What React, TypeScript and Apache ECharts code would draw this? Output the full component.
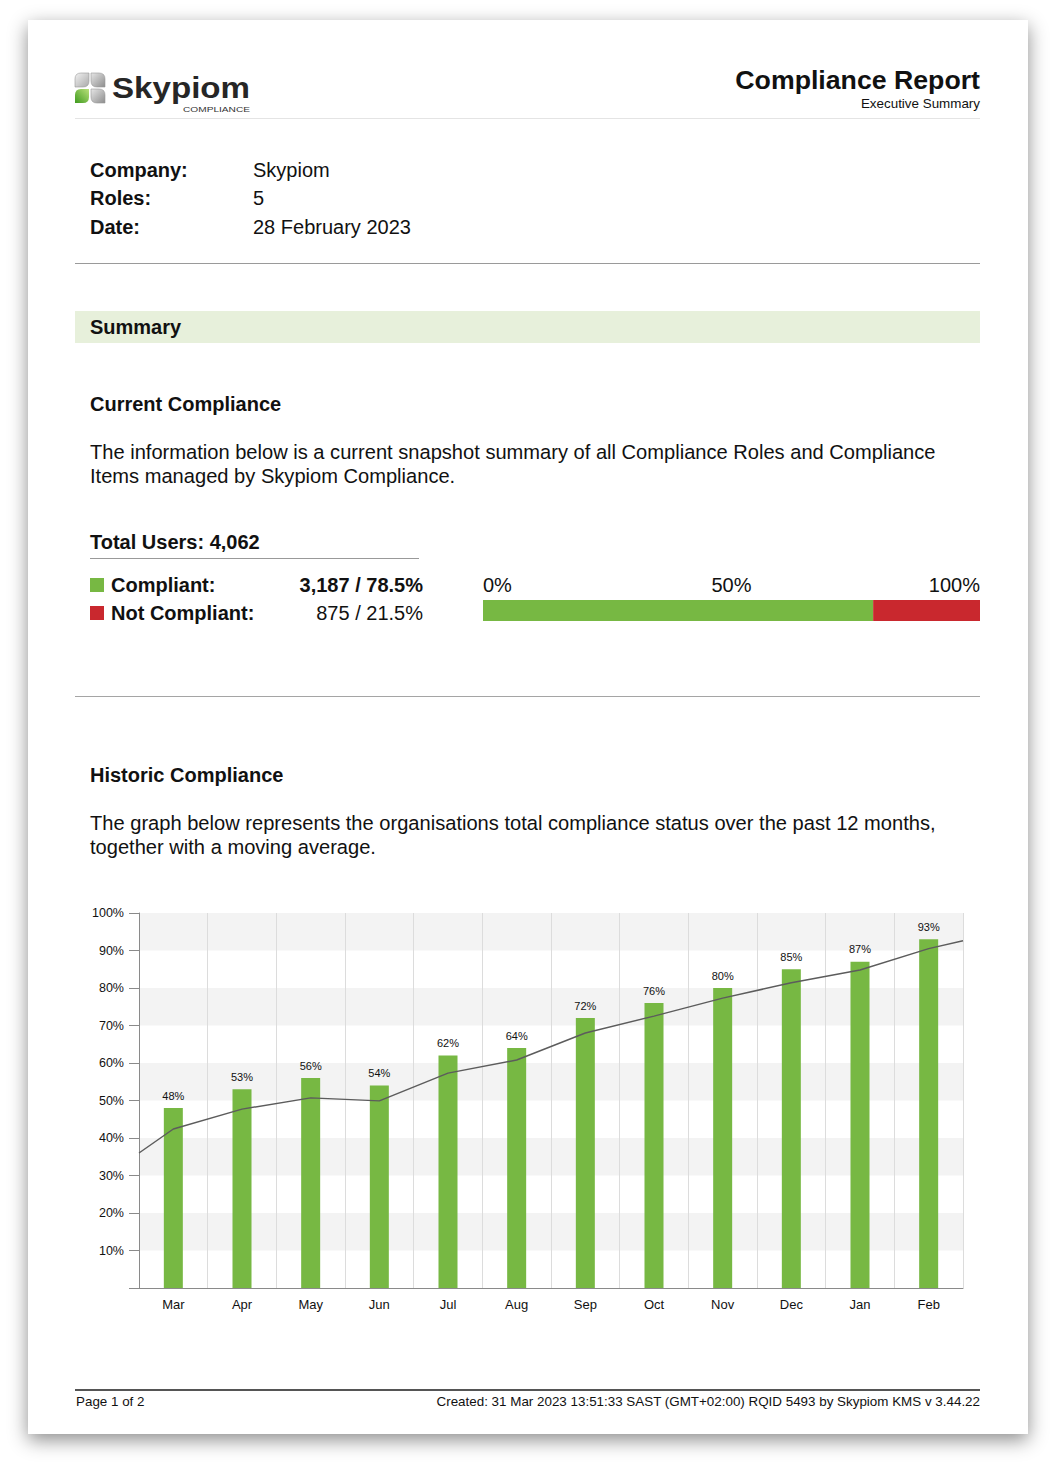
import React, { useEffect, useRef } from 'react';
import * as echarts from 'echarts';

const FONT = '"Liberation Sans", Arial, Helvetica, sans-serif';

// ---- data ----
const companyName = 'Skypiom';
const rolesCount = 5;
const reportDate = '28 February 2023';
const totalUsers = '4,062';
const statusLabels = ['Compliant:', 'Not Compliant:'];
const statusUsers = ['3,187', '875'];
const statusPct = [78.5, 21.5];
const statusColors = ['#77b843', '#c9282e'];
const snapshotTicks = [0, 50, 100];

const months = ['Mar', 'Apr', 'May', 'Jun', 'Jul', 'Aug', 'Sep', 'Oct', 'Nov', 'Dec', 'Jan', 'Feb'];
const compliancePct = [48, 53, 56, 54, 62, 64, 72, 76, 80, 85, 87, 93];
// moving average: start at axis left edge, one point per month centre, end at axis right edge
const movingAvg = [36, 42.4, 47.7, 50.7, 49.9, 57.3, 60.8, 68, 72.5, 77.3, 81.4, 84.8, 90.5, 92.6];
const movingAvgPos = [0, ...months.map((_, i) => i + 0.5), months.length];
const yMin = 0;
const yMax = 100;
const yStep = 10;

// ---- helpers ----
function T(props: {
  x: number; y: number; size: number; bold?: boolean; align?: 'left' | 'right';
  color?: string; children: React.ReactNode;
}) {
  const f = props.size;
  const L = Math.round(f * 1.2);
  const baseline = (L - 1.117 * f) / 2 + 0.905 * f;
  const capCenter = baseline - 0.358 * f;
  const style: React.CSSProperties = {
    position: 'absolute',
    top: props.y - capCenter,
    fontSize: f,
    lineHeight: L + 'px',
    fontWeight: props.bold ? 700 : 400,
    fontFamily: FONT,
    color: props.color || '#111',
    whiteSpace: 'nowrap',
  };
  if (props.align === 'right') {
    style.right = 1058 - props.x;
    style.textAlign = 'right';
  } else {
    style.left = props.x;
  }
  return <div style={style}>{props.children}</div>;
}

function HLine(props: { x1: number; x2: number; y: number; color: string; w?: number }) {
  return (
    <div
      style={{
        position: 'absolute',
        left: props.x1,
        top: props.y,
        width: props.x2 - props.x1,
        height: props.w || 1,
        background: props.color,
      }}
    />
  );
}

function Logo() {
  return (
    <svg
      style={{ position: 'absolute', left: 74, top: 70 }}
      width={185}
      height={44}
      viewBox="0 0 185 44"
    >
      <defs>
        <linearGradient id="lg1" x1="0" y1="0" x2="1" y2="1">
          <stop offset="0" stopColor="#f2f2f2" />
          <stop offset="1" stopColor="#a9a9a9" />
        </linearGradient>
        <linearGradient id="lg2" x1="0" y1="0" x2="1" y2="1">
          <stop offset="0" stopColor="#e6e6e6" />
          <stop offset="1" stopColor="#8d8d8d" />
        </linearGradient>
        <linearGradient id="lg3" x1="1" y1="0" x2="0" y2="1">
          <stop offset="0" stopColor="#b9e07a" />
          <stop offset="1" stopColor="#3f9a1f" />
        </linearGradient>
      </defs>
      <path d="M1,17 V9 Q1,3 7,3 H15 V11 Q15,17 9,17 Z" fill="url(#lg1)" stroke="#999" strokeWidth="0.6" />
      <path d="M17,3 H25 Q31,3 31,9 V17 H23 Q17,17 17,11 Z" fill="url(#lg2)" stroke="#999" strokeWidth="0.6" />
      <path d="M15,19 V27 Q15,33 9,33 H1 V25 Q1,19 7,19 Z" fill="url(#lg3)" />
      <path d="M17,19 H25 Q31,19 31,25 V33 H23 Q17,33 17,27 Z" fill="url(#lg2)" stroke="#999" strokeWidth="0.6" />
      <text
        x={38}
        y={28}
        fontFamily={FONT}
        fontWeight={700}
        fontSize={29}
        fill="#262626"
        textLength={138}
        lengthAdjust="spacingAndGlyphs"
      >
        Skypiom
      </text>
      <text
        x={109}
        y={41.5}
        fontFamily={FONT}
        fontSize={7.5}
        fill="#333"
        textLength={67}
        lengthAdjust="spacingAndGlyphs"
      >
        COMPLIANCE
      </text>
    </svg>
  );
}

function SnapshotBar() {
  const ref = useRef<HTMLDivElement>(null);
  useEffect(() => {
    if (!ref.current) return;
    const chart = echarts.init(ref.current, undefined, { renderer: 'svg' });
    chart.setOption({
      animation: false,
      textStyle: { fontFamily: FONT },
      grid: { left: 13, right: 20, top: 35, height: 21 },
      xAxis: {
        type: 'value',
        position: 'top',
        min: snapshotTicks[0],
        max: snapshotTicks[snapshotTicks.length - 1],
        interval: snapshotTicks[1] - snapshotTicks[0],
        axisLine: { show: false },
        axisTick: { show: false },
        splitLine: { show: false },
        axisLabel: {
          fontSize: 20,
          color: '#111',
          margin: 5,
          formatter: '{value}%',
          alignMinLabel: 'left',
          alignMaxLabel: 'right',
        },
      },
      yAxis: { type: 'category', data: ['users'], show: false },
      series: statusPct.map((v, i) => ({
        type: 'bar',
        stack: 'total',
        barWidth: 21,
        data: [v],
        itemStyle: { color: statusColors[i] },
      })),
    });
    return () => chart.dispose();
  }, []);
  return <div ref={ref} style={{ position: 'absolute', left: 470, top: 565, width: 530, height: 70 }} />;
}

function HistoricChart() {
  const ref = useRef<HTMLDivElement>(null);
  useEffect(() => {
    if (!ref.current) return;
    const chart = echarts.init(ref.current, undefined, { renderer: 'svg' });
    chart.setOption({
      animation: false,
      textStyle: { fontFamily: FONT },
      grid: { left: 79, top: 23, width: 824, height: 375 },
      xAxis: [
        {
          type: 'category',
          data: months,
          boundaryGap: true,
          axisLine: { lineStyle: { color: '#8a8a8a', width: 1 } },
          axisTick: { show: false },
          axisLabel: { fontSize: 13, color: '#111', margin: 10 },
          splitLine: { show: true, lineStyle: { color: '#dcdcdc', width: 1 } },
        },
        {
          type: 'value',
          min: 0,
          max: months.length,
          show: false,
        },
      ],
      yAxis: {
        type: 'value',
        min: yMin,
        max: yMax,
        interval: yStep,
        axisLine: { show: true, lineStyle: { color: '#8a8a8a', width: 1 } },
        axisTick: { show: true, length: 10, lineStyle: { color: '#8a8a8a' } },
        axisLabel: {
          fontSize: 12.5,
          color: '#111',
          margin: 15,
          formatter: (v: number) => (v === 0 ? '' : v + '%'),
        },
        splitLine: { show: false },
        splitArea: { show: true, areaStyle: { color: ['rgba(255,255,255,0)', '#f3f3f3'] } },
      },
      series: [
        {
          type: 'bar',
          xAxisIndex: 0,
          data: compliancePct,
          barWidth: 19,
          itemStyle: { color: '#77b843' },
          label: {
            show: true,
            position: 'top',
            distance: 7,
            fontSize: 11,
            color: '#111',
            formatter: '{c}%',
          },
          z: 2,
        },
        {
          type: 'line',
          xAxisIndex: 1,
          data: movingAvg.map((v, i) => [movingAvgPos[i], v]),
          symbol: 'none',
          lineStyle: { color: '#5c5c5c', width: 1.5 },
          z: 3,
        },
      ],
    });
    return () => chart.dispose();
  }, []);
  return <div ref={ref} style={{ position: 'absolute', left: 60, top: 890, width: 940, height: 440 }} />;
}

export default function App() {
  return (
    <div
      style={{
        position: 'absolute',
        left: 0,
        top: 0,
        width: 1058,
        height: 1474,
        background: '#ffffff',
        overflow: 'hidden',
        fontFamily: FONT,
      }}
    >
      <div
        style={{
          position: 'absolute',
          left: 28,
          top: 20,
          width: 1000,
          height: 1414,
          background: '#fff',
          boxShadow: '0 6px 18px rgba(0,0,0,0.45)',
        }}
      />
      <Logo />
      <T x={980} y={80} size={26.7} bold align="right">Compliance Report</T>
      <T x={980} y={104} size={13.4} align="right">Executive Summary</T>
      <HLine x1={75} x2={980} y={118} color="#e4e4e4" />

      <T x={90} y={170} size={20} bold>Company:</T>
      <T x={253} y={170} size={20}>{companyName}</T>
      <T x={90} y={198} size={20} bold>Roles:</T>
      <T x={253} y={198} size={20}>{rolesCount}</T>
      <T x={90} y={227} size={20} bold>Date:</T>
      <T x={253} y={227} size={20}>{reportDate}</T>
      <HLine x1={75} x2={980} y={263} color="#9a9a9a" />

      <div style={{ position: 'absolute', left: 75, top: 311, width: 905, height: 32, background: '#e7f0db' }} />
      <T x={90} y={327} size={20} bold>Summary</T>

      <T x={90} y={404} size={20} bold>Current Compliance</T>
      <T x={90} y={452} size={20.1}>
        The information below is a current snapshot summary of all Compliance Roles and Compliance
      </T>
      <T x={90} y={476} size={20.1}>Items managed by Skypiom Compliance.</T>

      <T x={90} y={542} size={20} bold>Total Users: {totalUsers}</T>
      <HLine x1={90} x2={419} y={558} color="#999" />

      {statusLabels.map((lab, i) => (
        <React.Fragment key={lab}>
          <div
            style={{
              position: 'absolute',
              left: 90,
              top: 578 + i * 28,
              width: 14,
              height: 14,
              background: statusColors[i],
            }}
          />
          <T x={111} y={585 + i * 28} size={20} bold>{lab}</T>
          <T x={423} y={585 + i * 28} size={20} bold={i === 0} align="right">
            {statusUsers[i]} / {statusPct[i]}%
          </T>
        </React.Fragment>
      ))}
      <SnapshotBar />
      <HLine x1={75} x2={980} y={696} color="#a5a5a5" />

      <T x={90} y={775} size={20} bold>Historic Compliance</T>
      <T x={90} y={823} size={20.1}>
        The graph below represents the organisations total compliance status over the past 12 months,
      </T>
      <T x={90} y={847} size={20.1}>together with a moving average.</T>

      <HistoricChart />

      <HLine x1={75} x2={980} y={1389} color="#555" w={2} />
      <T x={76} y={1402} size={13.4}>Page 1 of 2</T>
      <T x={980} y={1402} size={13.4} align="right">
        Created: 31 Mar 2023 13:51:33 SAST (GMT+02:00) RQID 5493 by Skypiom KMS v 3.44.22
      </T>
    </div>
  );
}
